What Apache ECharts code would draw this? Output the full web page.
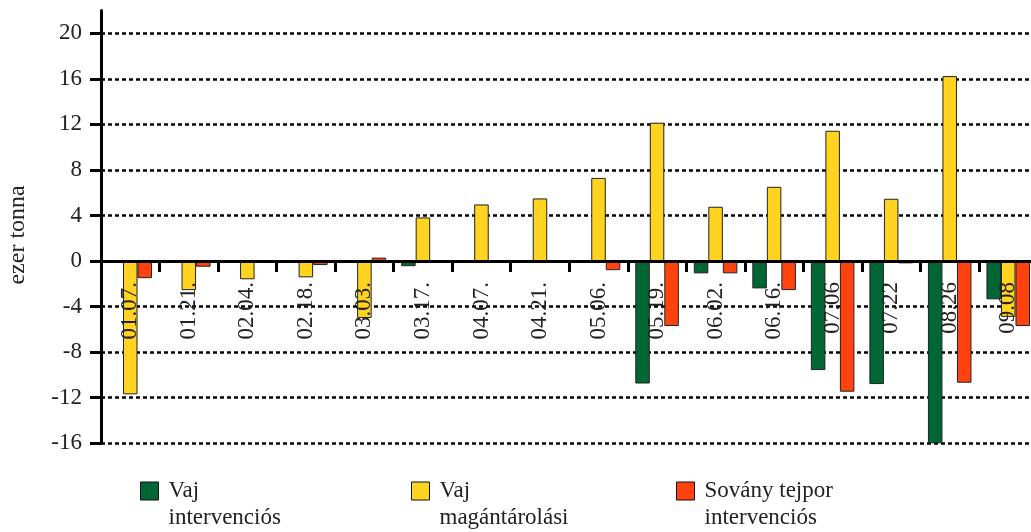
<!DOCTYPE html>
<html>
<head>
<meta charset="utf-8">
<script src="https://cdn.jsdelivr.net/npm/echarts@6/dist/echarts.min.js"></script>
<style>
  html, body { margin: 0; padding: 0; background: #fff; }
  #chart { width: 1031px; height: 532px; }
</style>
</head>
<body>
<div id="chart"></div>
<script>
// dátumok (x tengely)
var categories = ['01.07.', '01.21.', '02.04.', '02.18.', '03.03.', '03.17.', '04.07.', '04.21.',
  '05.06.', '05.19.', '06.02.', '06.16.', '07.06', '07.22', '08.26', '09.08'];
// ezer tonna
var vajIntervencios = [0, 0, 0, 0, 0, -0.45, 0, 0, 0, -10.75, -1.08, -2.4, -9.57, -10.8, -16, -3.36];
var vajMagantarolasi = [-11.7, -2.55, -1.6, -1.43, -5.0, 3.83, 4.97, 5.5, 7.3, 12.15, 4.77, 6.52, 11.44, 5.47, 16.24, -4.9];
var sovanyTejpor = [-1.5, -0.5, 0, -0.35, 0.3, 0, -0.1, -0.15, -0.8, -5.7, -1.08, -2.55, -11.47, -0.2, -10.68, -5.7];
var yTicks = [-16, -12, -8, -4, 0, 4, 8, 12, 16, 20];
var seriesNames = ['Vaj\nintervenciós', 'Vaj\nmagántárolási', 'Sovány tejpor\nintervenciós'];
var colors = ['#006633', '#FFD320', '#FF420E'];

var font = '"Liberation Serif", "DejaVu Serif", serif';
var mChart = echarts.init(document.getElementById('chart'));

// a 0 vonal helye a rácson belül (px) -> az x tengelyt oda toljuk fel
var gridTop = 10.5, gridBottom = 88.7, yMin = -16, yMax = 22;
var plotH = 532 - gridTop - gridBottom;
var zeroShift = plotH * (0 - yMin) / (yMax - yMin);

var legendAt = [140, 411, 676];
var legends = seriesNames.map(function (n, i) {
  return {
    data: [n],
    left: legendAt[i],
    top: 450.5,
    padding: 0,
    icon: 'rect',
    itemWidth: 18,
    itemHeight: 18,
    itemStyle: { borderColor: '#111', borderWidth: 1 },
    formatter: function (name) { return '\n' + name; }, // első sor az ikon mellé
    textStyle: { fontFamily: font, fontSize: 23, color: '#222', lineHeight: 27, padding: [0, 0, 0, 5] }
  };
});

var makeSeries = function (i, values) {
  return {
    name: seriesNames[i],
    type: 'bar',
    data: values,
    barGap: 0,
    barCategoryGap: '25.6%',
    itemStyle: { color: colors[i], borderColor: '#222', borderWidth: 1 }
  };
};

var option = {
  animation: false,
  backgroundColor: '#fff',
  grid: { left: 101, right: -6.5, top: gridTop, bottom: gridBottom, containLabel: false, outerBoundsMode: 'none' },
  legend: legends,
  xAxis: {
    type: 'category',
    data: categories,
    z: 10,
    offset: -zeroShift,
    axisLine: { onZero: false, lineStyle: { color: '#000', width: 3 } },
    axisTick: { show: true, length: 11, lineStyle: { color: '#000', width: 3 } },
    axisLabel: { rotate: 90, margin: 21, interval: 0, fontFamily: font, fontSize: 23, color: '#222' },
    splitLine: { show: false }
  },
  yAxis: {
    type: 'value',
    min: yMin,
    max: yMax,
    name: 'ezer tonna',
    nameLocation: 'middle',
    nameGap: 71,
    nameTextStyle: { fontFamily: font, fontSize: 24, color: '#222', padding: [0, 16, 0, 0] },
    axisLine: { show: true, lineStyle: { color: '#000', width: 3 } },
    axisTick: { show: true, length: 11, customValues: yTicks, lineStyle: { color: '#000', width: 3 } },
    axisLabel: { margin: 19, customValues: yTicks, fontFamily: font, fontSize: 23, color: '#222' },
    splitLine: { show: true, lineStyle: { color: '#000', width: 2.5, type: [4, 3] } }
  },
  series: [
    makeSeries(0, vajIntervencios),
    makeSeries(1, vajMagantarolasi),
    makeSeries(2, sovanyTejpor)
  ]
};
mChart.setOption(option);
</script>
</body>
</html>
